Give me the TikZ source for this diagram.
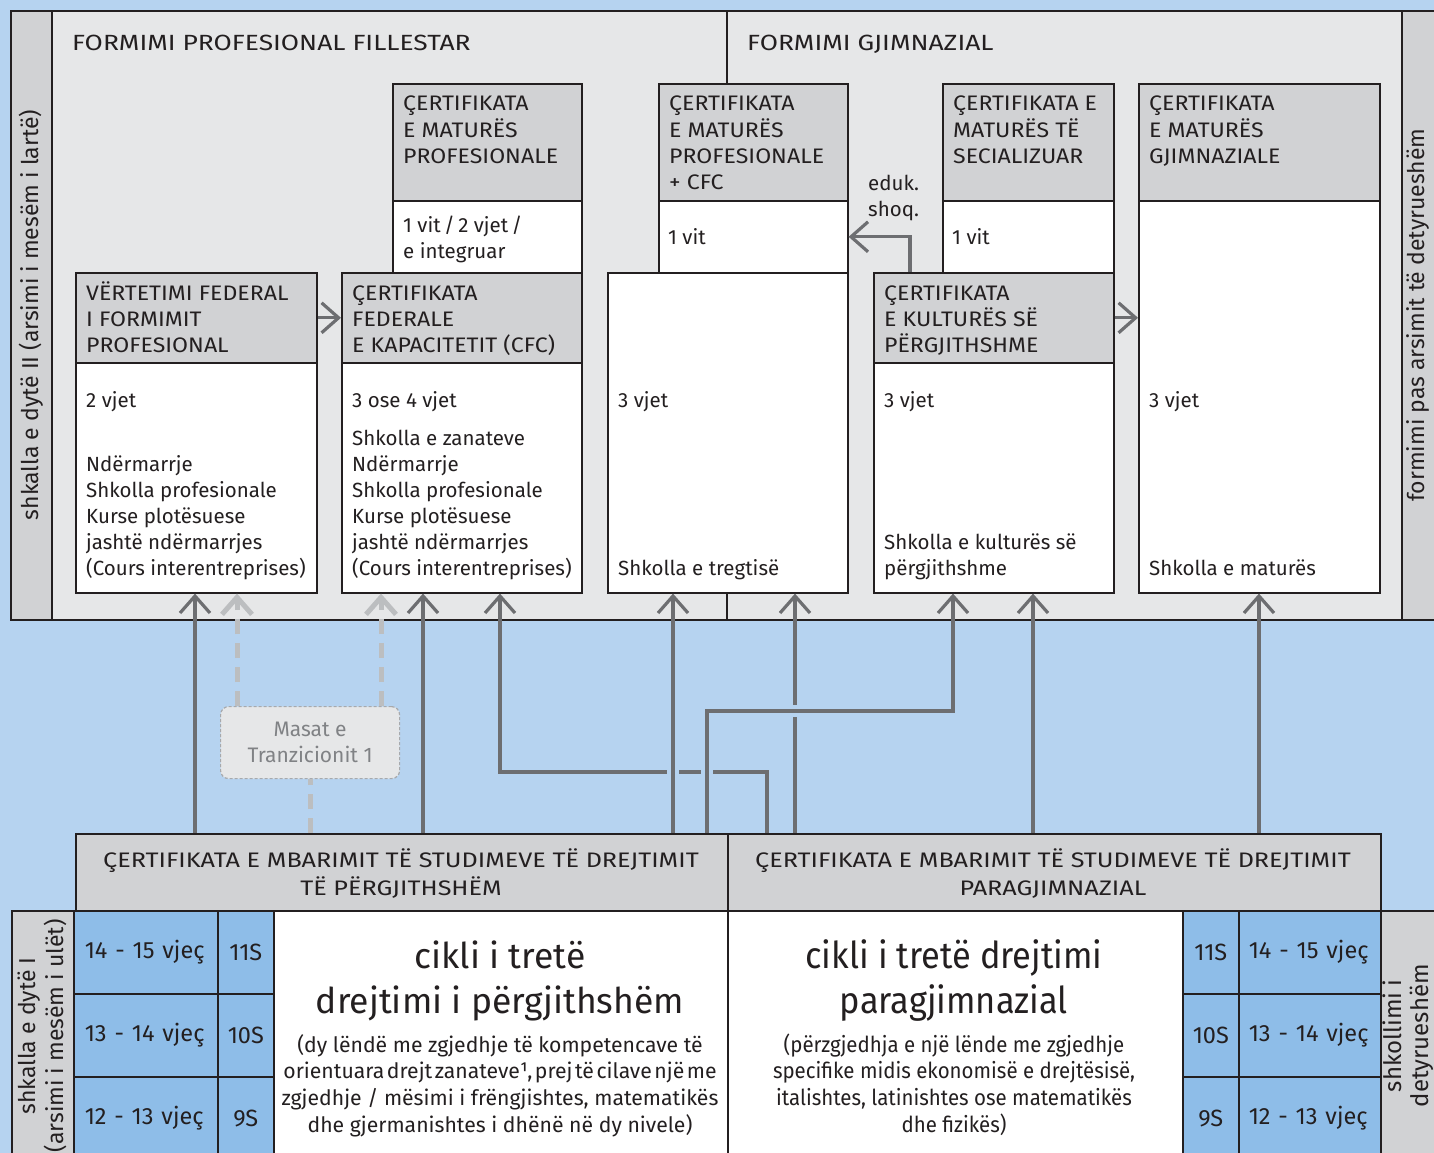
\documentclass[tikz,border=0pt]{standalone}
\usepackage{fontspec}
\setmainfont{Fira Sans}
\newfontfamily\etroit{Fira Sans}[FakeStretch=0.93]
\newfontfamily\capsbox{Fira Sans}[FakeStretch=1.1]
\newfontfamily\capslarge{Fira Sans}[FakeStretch=1.2]
\usetikzlibrary{arrows.meta}

\definecolor{bleu}{HTML}{B6D3F0}
\definecolor{bleucase}{HTML}{8EBDE8}
\definecolor{panneau}{HTML}{E6E7E8}
\definecolor{gris}{HTML}{D1D2D4}
\definecolor{ink}{HTML}{231F20}
\definecolor{grisfl}{HTML}{6D6E71}
\definecolor{grisclair}{HTML}{BCBEC0}
\definecolor{grismasat}{HTML}{A7A9AC}
\definecolor{textemasat}{HTML}{808285}

\newcommand\corps{\fontsize{20.5}{26}\selectfont}
\newcommand\titre{\capsbox\fontsize{21}{26}\selectfont}
\newcommand\grand{\fontsize{35.5}{45}\selectfont}
\newcommand\agefont{\fontsize{23.5}{26}\selectfont}
\newcommand\cote{\fontsize{23}{28}\selectfont}

\begin{document}
\begin{tikzpicture}[x=1pt,y=-1pt,
  >={Straight Barb[length=17pt,width=30pt]},
  cadre/.style={draw=ink, line width=1.6pt},
  boite/.style 2 args={cadre, anchor=north west, inner sep=0pt,
                       minimum width=#1, minimum height=#2},
  tete/.style 2 args={boite={#1}{#2}, fill=gris},
  blanc/.style 2 args={boite={#1}{#2}, fill=white},
  cellule/.style 2 args={boite={#1}{#2}, fill=bleucase, font=\agefont, text=ink},
  agecase/.style 2 args={cellule={#1}{83}, text width=122pt, inner xsep=#2, align=left},
  texte/.style={anchor=base west, align=left, inner sep=0pt, font=\corps, text=ink},
  majus/.style={texte, font=\titre},
  fleche/.style={->, draw=grisfl, line width=3.2pt},
  tiret/.style={draw=grisclair, line width=5pt, dash pattern=on 15pt off 9pt},
  coupure/.style={draw=bleu, line width=6pt}]
\useasboundingbox (0,0) rectangle (1434,1153);
\fill[bleu] (0,0) rectangle (1434,1153);

% le panneau du haut
\draw[cadre, fill=panneau] (11,11) rectangle (1440,620);
\draw[cadre, fill=gris] (11,11) rectangle (52,620);
\draw[cadre, fill=gris] (1402,11) rectangle (1440,620);
\draw[ink, line width=1.2pt] (727,11) -- (727,620);
\node[rotate=90, font=\cote, text=ink] (l_haut) at (31,315) {shkalla e dytë II (arsimi i mesëm i lartë)};
\node[rotate=90, font=\cote, text=ink] (l_droit) at (1418,315) {formimi pas arsimit të detyrueshëm};
\node[texte, font=\capslarge\fontsize{22}{26}\selectfont] (t_pro) at (72,51) {FORMIMI PROFESIONAL FILLESTAR};
\node[texte, font=\capslarge\fontsize{22}{26}\selectfont] (t_gym) at (747,51) {FORMIMI GJIMNAZIAL};

% les boites
\node[tete={241}{90}] (vf_t) at (75,272) {};
\node[blanc={241}{230}] (vf_b) at (75,362) {};
\node[tete={240}{90}] (cfc_t) at (341,272) {};
\node[blanc={240}{230}] (cfc_b) at (341,362) {};
\node[tete={189}{117}] (mp_t) at (392,83) {};
\node[blanc={189}{72}] (mp_b) at (392,200) {};
\node[blanc={240}{320}] (tr_b) at (607,272) {};
\node[tete={189}{117}] (mpc_t) at (658,83) {};
\node[blanc={189}{72}] (mpc_b) at (658,200) {};
\node[tete={240}{90}] (kp_t) at (873,272) {};
\node[blanc={240}{230}] (kp_b) at (873,362) {};
\node[tete={171}{117}] (ms_t) at (942,83) {};
\node[blanc={171}{72}] (ms_b) at (942,200) {};
\node[tete={241}{117}] (mg_t) at (1138,83) {};
\node[blanc={241}{392}] (mg_b) at (1138,200) {};

% les textes des boites (ancre sur la derniere ligne)
\node[majus] (x_vf) at ([shift={(11,80)}]vf_t.north west) {VËRTETIMI FEDERAL\\I FORMIMIT\\PROFESIONAL};
\node[texte] (x_vf1) at ([shift={(11,45)}]vf_b.north west) {2 vjet};
\node[texte] (x_vf2) at ([shift={(11,213)}]vf_b.north west) {Ndërmarrje\\Shkolla profesionale\\Kurse plotësuese\\jashtë ndërmarrjes\\(Cours interentreprises)};
\node[majus] (x_cfc) at ([shift={(11,80)}]cfc_t.north west) {ÇERTIFIKATA\\FEDERALE\\E KAPACITETIT (CFC)};
\node[texte] (x_cfc1) at ([shift={(11,45)}]cfc_b.north west) {3 ose 4 vjet};
\node[texte] (x_cfc2) at ([shift={(11,213)}]cfc_b.north west) {Shkolla e zanateve\\Ndërmarrje\\Shkolla profesionale\\Kurse plotësuese\\jashtë ndërmarrjes\\(Cours interentreprises)};
\node[majus] (x_mp) at ([shift={(11,80)}]mp_t.north west) {ÇERTIFIKATA\\E MATURËS\\PROFESIONALE};
\node[texte] (x_mp1) at ([shift={(11,58)}]mp_b.north west) {1 vit\,/\,2 vjet\,/\\e integruar};
\node[texte] (x_tr1) at ([shift={(11,135)}]tr_b.north west) {3 vjet};
\node[texte] (x_tr2) at ([shift={(11,303)}]tr_b.north west) {Shkolla e tregtisë};
\node[majus] (x_mpc) at ([shift={(11,106)}]mpc_t.north west) {ÇERTIFIKATA\\E MATURËS\\PROFESIONALE\\+ CFC};
\node[texte] (x_mpc1) at ([shift={(10,44)}]mpc_b.north west) {1 vit};
\node[majus] (x_kp) at ([shift={(11,80)}]kp_t.north west) {ÇERTIFIKATA\\E KULTURËS SË\\PËRGJITHSHME};
\node[texte] (x_kp1) at ([shift={(11,45)}]kp_b.north west) {3 vjet};
\node[texte] (x_kp2) at ([shift={(11,213)}]kp_b.north west) {Shkolla e kulturës së\\përgjithshme};
\node[majus] (x_ms) at ([shift={(11,80)}]ms_t.north west) {ÇERTIFIKATA E\\MATURËS TË\\SECIALIZUAR};
\node[texte] (x_ms1) at ([shift={(10,44)}]ms_b.north west) {1 vit};
\node[majus] (x_mg) at ([shift={(11,80)}]mg_t.north west) {ÇERTIFIKATA\\E MATURËS\\GJIMNAZIALE};
\node[texte] (x_mg1) at ([shift={(11,207)}]mg_b.north west) {3 vjet};
\node[texte] (x_mg2) at ([shift={(11,375)}]mg_b.north west) {Shkolla e maturës};
\node[texte] (x_eduk) at (868,216) {eduk.\\shoq.};

% fleches entre les certificats
\draw[fleche] (vf_t.east) -- (cfc_t.west);
\draw[fleche] (kp_t.east) -- (mg_b.west |- kp_t.east);
\draw[fleche] (kp_t.north -| 910,0) |- (mpc_b.east);

% la barre des certificats et le bas
\node[tete={652}{77}] (cpg) at (75,833) {};
\node[tete={653}{77}] (cpp) at (727,833) {};
\node[texte, anchor=base, align=center, font=\capslarge\fontsize{21}{28}\selectfont] (x_cpg) at (401,895) {ÇERTIFIKATA E MBARIMIT TË STUDIMEVE TË DREJTIMIT\\TË PËRGJITHSHËM};
\node[texte, anchor=base, align=center, font=\capslarge\fontsize{21}{28}\selectfont] (x_cpp) at (1053,895) {ÇERTIFIKATA E MBARIMIT TË STUDIMEVE TË DREJTIMIT\\PARAGJIMNAZIAL};

\node[tete={62}{250}] (sg) at (11,910) {};
\node[rotate=90, font=\cote, text=ink, align=center] (l_bas) at (sg.center) {shkalla e dytë I\\(arsimi i mesëm i ulët)};
\node[tete={60}{250}] (sd) at (1380,910) {};
\node[rotate=90, font=\fontsize{24}{27}\selectfont, text=ink, align=center] (l_basd) at ([xshift=-3pt]sd.center) {shkollimi i\\detyrueshëm};

\node[agecase={144}{11pt}] (ag1) at (73,910) {\mbox{14 - 15 vjeç}};
\node[agecase={144}{11pt}] (ag2) at (73,993) {\mbox{13 - 14 vjeç}};
\node[agecase={144}{11pt}] (ag3) at (73,1076) {\mbox{12 - 13 vjeç}};
\node[cellule={56}{83}] (cg1) at (217,910) {11S};
\node[cellule={56}{83}] (cg2) at (217,993) {10S};
\node[cellule={56}{83}] (cg3) at (217,1076) {9S};
\node[cellule={56}{83}] (cd1) at (1182,910) {11S};
\node[cellule={56}{83}] (cd2) at (1182,993) {10S};
\node[cellule={56}{83}] (cd3) at (1182,1076) {9S};
\node[agecase={142}{10pt}] (ad1) at (1238,910) {\mbox{14 - 15 vjeç}};
\node[agecase={142}{10pt}] (ad2) at (1238,993) {\mbox{13 - 14 vjeç}};
\node[agecase={142}{10pt}] (ad3) at (1238,1076) {\mbox{12 - 13 vjeç}};

\node[blanc={454}{250}] (cyg) at (273,910) {};
\node[blanc={455}{250}] (cyp) at (727,910) {};
\node[texte, anchor=base, align=center, font=\grand] (x_cyg) at (500,1013) {cikli i tretë\\drejtimi i përgjithshëm};
\node[texte, anchor=base, align=center, font=\fontsize{21.2}{26.6}\selectfont] (x_cyg2) at (500,1132) {(dy lëndë me zgjedhje të kompetencave të\\{\spaceskip=.12em orientuara drejt zanateve¹, prej të cilave një me}\\zgjedhje / mësimi i frëngjishtes, matematikës\\dhe gjermanishtes i dhënë në dy nivele)};
\node[texte, anchor=base, align=center, font=\etroit\fontsize{37}{45}\selectfont] (x_cyp) at (954,1013) {cikli i tretë drejtimi\\paragjimnazial};
\node[texte, anchor=base, align=center, font=\etroit\fontsize{22}{26.6}\selectfont] (x_cyp2) at (954,1132) {(përzgjedhja e një lënde me zgjedhje\\specifike midis ekonomisë e drejtësisë,\\italishtes, latinishtes ose matematikës\\dhe fizikës)};

% masat e tranzicionit
\node[cadre, draw=grismasat, line width=1.2pt, dash pattern=on 3pt off 2pt, rounded corners=8pt,
      fill=panneau, anchor=north west, minimum width=179, minimum height=72, inner sep=0pt,
      align=center, font=\fontsize{21}{26}\selectfont, text=textemasat] (masat) at (220,706) {Masat e\\Tranzicionit 1};
\draw[tiret, ->] (masat.north -| 237,0) -- (vf_b.south -| 237,0);
\draw[tiret, ->] (masat.north -| 381,0) -- (cfc_b.south -| 381,0);
\draw[tiret] (cpg.north -| masat.south) -- (masat.south);

% fleches depuis les certificats du bas
\coordinate (c1) at (500,772);
\coordinate (c2) at (953,711);
\draw[fleche] (cpg.north -| 195,0) -- (vf_b.south -| 195,0);
\draw[fleche] (cpg.north -| 423,0) -- (cfc_b.south -| 423,0);
\draw[fleche] (cpp.north -| 767,0) |- (c1) -- (cfc_b.south -| c1);
\draw[coupure] (667,772) -- (679,772);
\draw[coupure] (701,772) -- (713,772);
\draw[fleche] (cpg.north -| 673,0) -- (tr_b.south -| 673,0);
\draw[fleche] (cpp.north -| 795,0) -- (tr_b.south -| 795,0);
\draw[coupure] (795,705) -- (795,717);
\draw[fleche] (cpg.north -| 707,0) |- (c2) -- (kp_b.south -| c2);
\draw[fleche] (cpp.north -| 1033,0) -- (kp_b.south -| 1033,0);
\draw[fleche] (cpp.north -| 1259,0) -- (mg_b.south -| 1259,0);

\end{tikzpicture}
\end{document}
